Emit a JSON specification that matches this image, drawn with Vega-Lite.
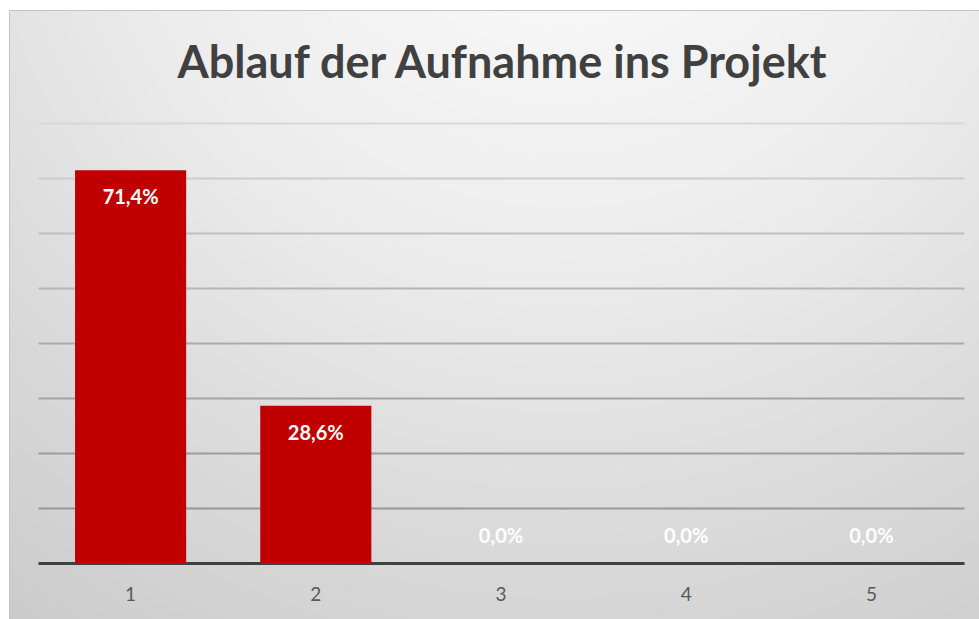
{
  "$schema": "https://vega.github.io/schema/vega-lite/v6.json",
  "width": 970,
  "height": 609,
  "autosize": {"type": "none"},
  "padding": {"left": 9, "top": 10, "right": 0, "bottom": 0},
  "background": "#ffffff",
  "config": {
    "locale": {"number": {"decimal": ",", "thousands": ".", "grouping": [3], "currency": ["", " €"]}},
    "view": {
      "fill": {
        "gradient": "radial",
        "x1": 0.57, "y1": 0.0, "r1": 0,
        "x2": 0.57, "y2": 0.0, "r2": 1.05,
        "stops": [
          {"offset": 0, "color": "#fdfdfd"},
          {"offset": 0.43, "color": "#ececec"},
          {"offset": 0.71, "color": "#d9d9d9"},
          {"offset": 1, "color": "#c8c8c8"}
        ]
      },
      "stroke": "#c4c4c4",
      "strokeWidth": 1
    },
    "font": "Lato"
  },
  "title": {
    "text": "Ablauf der Aufnahme ins Projekt",
    "font": "Lato",
    "fontSize": 45,
    "fontWeight": "bold",
    "color": "#404040",
    "anchor": "middle",
    "frame": "group",
    "baseline": "alphabetic",
    "offset": 0,
    "dy": 113,
    "dx": 8
  },
  "data": {
    "values": [
      {"kategorie": "1", "anteil": 0.714},
      {"kategorie": "2", "anteil": 0.286},
      {"kategorie": "3", "anteil": 0.0},
      {"kategorie": "4", "anteil": 0.0},
      {"kategorie": "5", "anteil": 0.0}
    ]
  },
  "encoding": {
    "x": {
      "field": "kategorie",
      "type": "nominal",
      "sort": null,
      "scale": {"range": [29, 955], "paddingInner": 0.4, "paddingOuter": 0.2},
      "axis": {
        "title": null,
        "labelAngle": 0,
        "labelFont": "Lato",
        "labelFontSize": 19,
        "labelColor": "#595959",
        "labelPadding": 22,
        "ticks": false,
        "tickSize": 0,
        "domainColor": "#404040",
        "domainWidth": 3,
        "grid": false,
        "offset": -56
      }
    },
    "y": {
      "field": "anteil",
      "type": "quantitative",
      "scale": {"domain": [0, 0.8], "range": [553, 113], "nice": false},
      "axis": {
        "title": null,
        "labels": false,
        "ticks": false,
        "domain": false,
        "grid": true,
        "values": [0.1, 0.2, 0.3, 0.4, 0.5, 0.6, 0.7, 0.8],
        "gridWidth": 2,
        "gridColor": {
          "condition": [
            {"test": "datum.value > 0.75", "value": "#d8d8d8"},
            {"test": "datum.value > 0.65", "value": "#cccccc"},
            {"test": "datum.value > 0.55", "value": "#c0c0c0"},
            {"test": "datum.value > 0.45", "value": "#b5b5b5"},
            {"test": "datum.value > 0.35", "value": "#ababab"},
            {"test": "datum.value > 0.25", "value": "#a3a3a3"},
            {"test": "datum.value > 0.15", "value": "#9d9d9d"}
          ],
          "value": "#979797"
        }
      }
    }
  },
  "layer": [
    {
      "mark": {"type": "bar", "color": "#c00000"}
    },
    {
      "transform": [{"filter": "datum.anteil > 0"}],
      "mark": {"type": "text", "color": "#ffffff", "font": "Lato", "fontSize": 20, "fontWeight": "bold", "baseline": "alphabetic", "dy": 34},
      "encoding": {"text": {"field": "anteil", "type": "quantitative", "format": ".1%"}}
    },
    {
      "transform": [{"filter": "datum.anteil == 0"}],
      "mark": {"type": "text", "color": "#ffffff", "font": "Lato", "fontSize": 20, "fontWeight": "bold", "baseline": "alphabetic", "dy": -20},
      "encoding": {"text": {"field": "anteil", "type": "quantitative", "format": ".1%"}}
    }
  ]
}
